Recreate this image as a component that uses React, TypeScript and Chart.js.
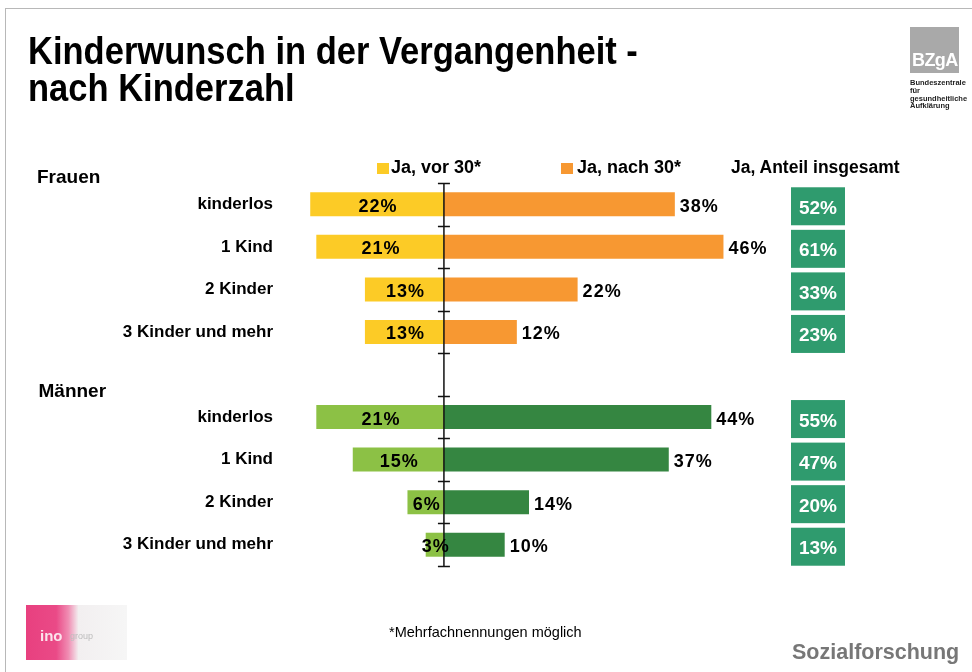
import React, { useEffect, useRef } from 'react';
import { Chart, registerables } from 'chart.js';

Chart.register(...registerables);

// ---- data ----
const categories = ['kinderlos', '1 Kind', '2 Kinder', '3 Kinder und mehr', '', 'kinderlos', '1 Kind', '2 Kinder', '3 Kinder und mehr'];
const groupLabels = ['Frauen', 'Männer'];
const before30 = [22, 21, 13, 13, null, 21, 15, 6, 3];
const after30 = [38, 46, 22, 12, null, 44, 37, 14, 10];
const totalShare = [52, 61, 33, 23, null, 55, 47, 20, 13];
const legendLabels = ['Ja, vor 30*', 'Ja, nach 30*', 'Ja, Anteil insgesamt'];
const titleLines = ['Kinderwunsch in der Vergangenheit -', 'nach Kinderzahl'];
const footnote = '*Mehrfachnennungen möglich';
const footerRight = 'Sozialforschung';
const logoLines = ['Bundeszentrale', 'für', 'gesundheitliche', 'Aufklärung'];

const FONT = '"Liberation Sans", Arial, Helvetica, sans-serif';
const YELLOW = '#FCCB26';
const ORANGE = '#F79832';
const LGREEN = '#8CC145';
const DGREEN = '#358641';
const BOXGREEN = '#2F9B6E';

const leftColors = categories.map((_, i) => (i < 4 ? YELLOW : LGREEN));
const rightColors = categories.map((_, i) => (i < 4 ? ORANGE : DGREEN));

const overlayPlugin = {
  id: 'overlay',
  afterDatasetsDraw(chart: any) {
    const ctx = chart.ctx as CanvasRenderingContext2D;
    const xs = chart.scales.x;
    const ys = chart.scales.y;
    const area = chart.chartArea;
    const zero = xs.getPixelForValue(0);
    const band = ys.getPixelForValue(1) - ys.getPixelForValue(0);
    ctx.save();
    // axis line + ticks
    ctx.strokeStyle = '#111';
    ctx.lineWidth = 1.5;
    ctx.beginPath();
    ctx.moveTo(zero, area.top);
    ctx.lineTo(zero, area.bottom);
    for (let i = 0; i <= categories.length; i++) {
      const ty = Math.round(ys.getPixelForValue(0) - band / 2 + i * band) + 0.5;
      ctx.moveTo(zero - 6, ty);
      ctx.lineTo(zero + 6, ty);
    }
    ctx.stroke();

    // value labels
    ctx.font = `bold 18px ${FONT}`;
    ctx.fillStyle = '#000';
    ctx.textBaseline = 'alphabetic';
    (ctx as any).letterSpacing = '1px';
    const m0 = chart.getDatasetMeta(0);
    const m1 = chart.getDatasetMeta(1);
    m0.data.forEach((el: any, i: number) => {
      if (before30[i] == null) return;
      ctx.textAlign = 'center';
      ctx.fillText(before30[i] + '%', (el.x + el.base) / 2 + 1, el.y + 7.5);
    });
    m1.data.forEach((el: any, i: number) => {
      if (after30[i] == null) return;
      ctx.textAlign = 'left';
      ctx.fillText(after30[i] + '%', el.x + 5, el.y + 7.5);
    });

    // total boxes
    (ctx as any).letterSpacing = '0px';
    ctx.font = `bold 19px ${FONT}`;
    ctx.textAlign = 'center';
    const boxW = 54;
    const boxH = 38;
    const bx = area.right - boxW;
    totalShare.forEach((v, i) => {
      if (v == null) return;
      const cy = ys.getPixelForValue(i) + 2;
      ctx.fillStyle = BOXGREEN;
      ctx.fillRect(bx, cy - boxH / 2, boxW, boxH);
      ctx.fillStyle = '#fff';
      ctx.fillText(v + '%', bx + boxW / 2, cy + 7.5);
    });
    ctx.restore();
  },
};

export default function App() {
  const ref = useRef<HTMLCanvasElement | null>(null);

  useEffect(() => {
    if (!ref.current) return;
    const chart = new Chart(ref.current, {
      type: 'bar',
      data: {
        labels: categories,
        datasets: [
          {
            label: legendLabels[0],
            data: before30.map((v) => (v == null ? null : -v)),
            backgroundColor: leftColors,
            barPercentage: 0.564,
            categoryPercentage: 1,
            grouped: false,
          } as any,
          {
            label: legendLabels[1],
            data: after30,
            backgroundColor: rightColors,
            barPercentage: 0.564,
            categoryPercentage: 1,
            grouped: false,
          } as any,
        ],
      },
      options: {
        indexAxis: 'y',
        responsive: false,
        animation: false,
        layout: { padding: { top: 183, bottom: 106, left: 0, right: 127 } },
        scales: {
          x: { display: false, min: -25, max: 66 },
          y: {
            afterFit: (s: any) => {
              s.width = 292;
            },
            grid: { display: false, drawTicks: false },
            border: { display: false },
            ticks: {
              autoSkip: false,
              padding: 19,
              color: '#000',
              font: { family: FONT, size: 17, weight: 'bold' },
            },
          },
        },
        plugins: { legend: { display: false }, tooltip: { enabled: false } },
      } as any,
      plugins: [overlayPlugin],
    });
    return () => chart.destroy();
  }, []);

  const abs = (s: React.CSSProperties): React.CSSProperties => ({
    position: 'absolute',
    fontFamily: FONT,
    whiteSpace: 'nowrap',
    lineHeight: 1,
    ...s,
  });

  return (
    <div style={{ position: 'absolute', left: 0, top: 0, width: 972, height: 672, background: '#fff', overflow: 'hidden' }}>
      <canvas ref={ref} width={972} height={672} style={{ position: 'absolute', left: 0, top: 0, display: 'block' }} />
      {/* slide frame */}
      <div style={{ position: 'absolute', left: 5, top: 8, width: 972, height: 700, borderTop: '1px solid #b8b8b8', borderLeft: '1px solid #b8b8b8' }} />
      {/* title */}
      <div
        style={abs({
          left: 28,
          top: 32,
          fontSize: 39,
          lineHeight: '37px',
          fontWeight: 'bold',
          color: '#000',
          transform: 'scaleX(0.885)',
          transformOrigin: 'left top',
        })}
      >
        {titleLines[0]}
        <br />
        {titleLines[1]}
      </div>
      {/* BZgA logo */}
      <div style={{ position: 'absolute', left: 910, top: 27, width: 49, height: 46, background: '#a9a9a9' }} />
      <div style={abs({ left: 912, top: 51, fontSize: 18, fontWeight: 'bold', color: '#fff', letterSpacing: '-0.6px' })}>BZgA</div>
      <div style={abs({ left: 910, top: 79, fontSize: 7.5, lineHeight: '7.8px', fontWeight: 'bold', color: '#222' })}>
        {logoLines.map((l, i) => (
          <div key={i}>{l}</div>
        ))}
      </div>
      {/* legend / column heads */}
      <div style={{ position: 'absolute', left: 377, top: 162.5, width: 11.5, height: 11.5, background: YELLOW }} />
      <div style={abs({ left: 391, top: 158.3, fontSize: 18, fontWeight: 'bold', color: '#000' })}>{legendLabels[0]}</div>
      <div style={{ position: 'absolute', left: 561, top: 162.5, width: 11.5, height: 11.5, background: ORANGE }} />
      <div style={abs({ left: 577, top: 158.3, fontSize: 18, fontWeight: 'bold', color: '#000' })}>{legendLabels[1]}</div>
      <div style={abs({ left: 731, top: 158.7, fontSize: 17.5, fontWeight: 'bold', color: '#000' })}>{legendLabels[2]}</div>
      {/* group headers */}
      <div style={abs({ left: 37, top: 166.6, fontSize: 19, fontWeight: 'bold', color: '#000' })}>{groupLabels[0]}</div>
      <div style={abs({ left: 38.5, top: 380.6, fontSize: 19, fontWeight: 'bold', color: '#000' })}>{groupLabels[1]}</div>
      {/* bottom-left logo */}
      <div
        style={{
          position: 'absolute',
          left: 26,
          top: 605,
          width: 101,
          height: 55,
          background: 'linear-gradient(90deg, #e8407f 0%, #ea4a87 30%, #f08db3 42%, #f2eff0 52%, #f6f6f6 100%)',
        }}
      />
      <div style={abs({ left: 40, top: 628, fontSize: 15, fontWeight: 'bold', color: '#fbe3ec' })}>ino</div>
      <div style={abs({ left: 70, top: 632, fontSize: 9, color: '#bdbdbd' })}>group</div>
      {/* footnote */}
      <div style={abs({ left: 389, top: 624.7, fontSize: 14.5, color: '#000' })}>{footnote}</div>
      <div style={abs({ left: 792, top: 641.8, fontSize: 21.5, fontWeight: 'bold', color: '#777' })}>{footerRight}</div>
    </div>
  );
}
